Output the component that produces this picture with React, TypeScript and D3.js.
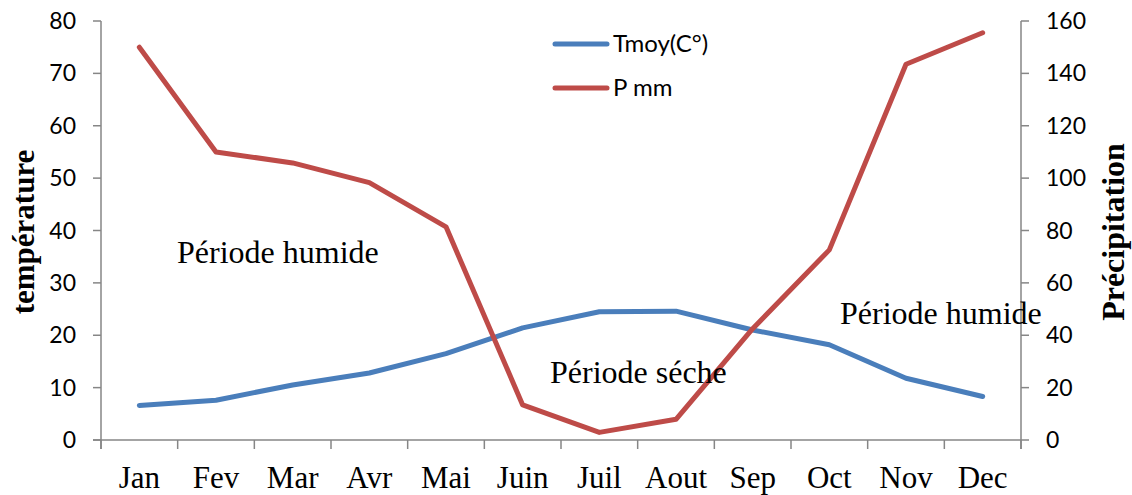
import React from "react";
import * as d3 from "d3";

// Monthly climate data
const months = ["Jan", "Fev", "Mar", "Avr", "Mai", "Juin", "Juil", "Aout", "Sep", "Oct", "Nov", "Dec"];
const tmoy = [6.6, 7.6, 10.5, 12.8, 16.5, 21.4, 24.5, 24.6, 21.0, 18.2, 11.8, 8.3];
const pmm = [150, 110, 105.8, 98.3, 81.4, 13.4, 2.9, 7.9, 42.5, 72.6, 143.5, 155.5];
const leftTicks = [0, 10, 20, 30, 40, 50, 60, 70, 80];
const rightTicks = [0, 20, 40, 60, 80, 100, 120, 140, 160];

const W = 1132;
const H = 495;
const plot = { left: 101, right: 1021, top: 21, bottom: 440 };

const BLUE = "#4a7ebb";
const RED = "#be4b48";
const AXIS = "#868686";
const SERIF = "'Liberation Serif', 'Times New Roman', serif";
const SANS = "Lato, 'Open Sans', sans-serif";

export default function App() {
  const x = d3.scaleBand<string>().domain(months).range([plot.left, plot.right]).padding(0);
  const yL = d3.scaleLinear().domain([0, 80]).range([plot.bottom, plot.top]);
  const yR = d3.scaleLinear().domain([0, 160]).range([plot.bottom, plot.top]);
  const cx = (m: string) => (x(m) as number) + x.bandwidth() / 2;

  const tLine = d3
    .line<number>()
    .x((_, i) => cx(months[i]))
    .y((d) => yL(d));
  const pLine = d3
    .line<number>()
    .x((_, i) => cx(months[i]))
    .y((d) => yR(d));

  const boundaries = months.map((m) => x(m) as number).concat([plot.right]);

  return (
    <svg
      width={W}
      height={H}
      style={{ position: "absolute", left: 0, top: 0, background: "#fff" }}
    >
      {/* left axis */}
      <line x1={plot.left} x2={plot.left} y1={plot.top} y2={plot.bottom + 9} stroke={AXIS} strokeWidth={1.5} />
      {leftTicks.map((t) => (
        <g key={"l" + t}>
          <line x1={plot.left - 8} x2={plot.left} y1={yL(t)} y2={yL(t)} stroke={AXIS} strokeWidth={1.5} />
          <text
            x={plot.left - 25}
            y={yL(t)}
            dy="0.35em"
            textAnchor="end"
            fontFamily={SANS}
            fontSize={23}
            fill="#000"
          >
            {t}
          </text>
        </g>
      ))}

      {/* right axis */}
      <line x1={plot.right} x2={plot.right} y1={plot.top} y2={plot.bottom + 9} stroke={AXIS} strokeWidth={1.5} />
      {rightTicks.map((t) => (
        <g key={"r" + t}>
          <line x1={plot.right} x2={plot.right + 8} y1={yR(t)} y2={yR(t)} stroke={AXIS} strokeWidth={1.5} />
          <text
            x={plot.right + 25}
            y={yR(t)}
            dy="0.35em"
            textAnchor="start"
            fontFamily={SANS}
            fontSize={23}
            fill="#000"
          >
            {t}
          </text>
        </g>
      ))}

      {/* bottom axis */}
      <line x1={plot.left - 8} x2={plot.right} y1={plot.bottom} y2={plot.bottom} stroke={AXIS} strokeWidth={1.5} />
      {boundaries.map((b, i) => (
        <line key={"b" + i} x1={b} x2={b} y1={plot.bottom} y2={plot.bottom + 9} stroke={AXIS} strokeWidth={1.5} />
      ))}
      {months.map((m) => (
        <text key={m} x={cx(m)} y={488} textAnchor="middle" fontFamily={SERIF} fontSize={31} fill="#000">
          {m}
        </text>
      ))}

      {/* axis titles */}
      <text
        transform={`translate(34, 232) rotate(-90)`}
        textAnchor="middle"
        fontFamily={SERIF}
        fontWeight="bold"
        fontSize={31}
        fill="#000"
      >
        température
      </text>
      <text
        transform={`translate(1124, 232) rotate(-90)`}
        textAnchor="middle"
        fontFamily={SERIF}
        fontWeight="bold"
        fontSize={32}
        fill="#000"
      >
        Précipitation
      </text>

      {/* series */}
      <path d={tLine(tmoy) || ""} fill="none" stroke={BLUE} strokeWidth={5} strokeLinejoin="round" strokeLinecap="round" />
      <path d={pLine(pmm) || ""} fill="none" stroke={RED} strokeWidth={5} strokeLinejoin="round" strokeLinecap="round" />

      {/* annotations */}
      <text x={177} y={263} fontFamily={SERIF} fontSize={32} fill="#000">Période humide</text>
      <text x={550} y={383} fontFamily={SERIF} fontSize={32} fill="#000">Période séche</text>
      <text x={840} y={324} fontFamily={SERIF} fontSize={32} fill="#000">Période humide</text>

      {/* legend */}
      <line x1={555} x2={607} y1={44} y2={44} stroke={BLUE} strokeWidth={5} strokeLinecap="round" />
      <text x={613} y={44} dy="0.35em" fontFamily={SANS} fontSize={24} fill="#000">Tmoy(C°)</text>
      <line x1={555} x2={607} y1={88} y2={88} stroke={RED} strokeWidth={5} strokeLinecap="round" />
      <text x={613} y={88} dy="0.35em" fontFamily={SANS} fontSize={24} fill="#000">P mm</text>
    </svg>
  );
}
